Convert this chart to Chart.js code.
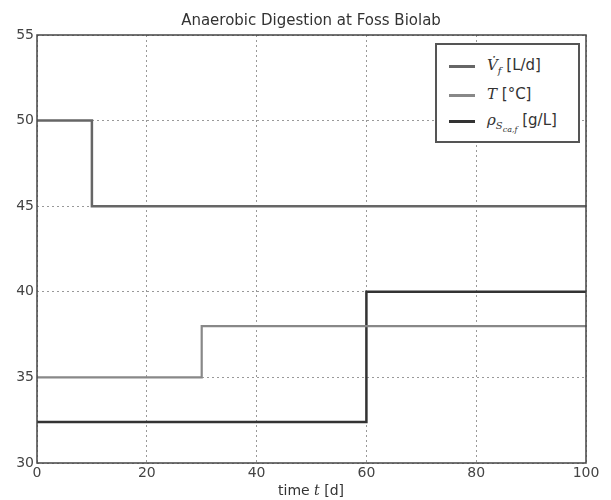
<!DOCTYPE html>
<html>
<head>
<meta charset="utf-8">
<script src="https://cdn.jsdelivr.net/npm/chart.js@4.4.1/dist/chart.umd.min.js"></script>
<style>
    body { margin: 0; background: #fff; }
    #wrap { position: relative; width: 611px; height: 500px; }
    #legend {
        position: absolute; left: 435px; top: 43px; width: 141px; height: 96px;
        border: 2px solid #555; background: #fff;
        font-family: "DejaVu Sans", sans-serif; font-size: 15px; color: #333;
    }
    .row { position: absolute; left: 0; height: 20px; }
    .swatch { position: absolute; left: 12px; width: 26px; }
    .lbl { position: absolute; left: 50px; top: -9px; white-space: nowrap; }
    .m { font-family: "DejaVu Serif", serif; font-style: italic; }
    sub { font-size: 10px; }
    sub sub { font-size: 8px; }
</style>
</head>
<body>
<div id="wrap">
    <canvas id="chart" width="611" height="500"></canvas>
    <div id="legend">
        <div class="row" style="top:20px"><span class="swatch" style="background:#666;height:2.5px"></span><span class="lbl"><span class="m">V&#775;</span><sub class="m">f</sub> [L/d]</span></div>
        <div class="row" style="top:49px"><span class="swatch" style="background:#888;height:2.5px"></span><span class="lbl"><span class="m">T</span> [&deg;C]</span></div>
        <div class="row" style="top:75px"><span class="swatch" style="background:#333;height:3px"></span><span class="lbl"><span class="m">&rho;</span><sub><span class="m">S</span><sub class="m">ca,f</sub></sub> [g/L]</span></div>
    </div>
</div>
<script>
const flowTimes = [0, 10, 100];
const flowValues = [50, 45, 45];
const tempTimes = [0, 30, 100];
const tempValues = [35, 38, 38];
const rhoTimes = [0, 60, 100];
const rhoValues = [32.4, 40, 40];

const xTicks = [0, 20, 40, 60, 80, 100];
const yTicks = [30, 35, 40, 45, 50, 55];

function toPoints(xs, ys){
    return xs.map((x, i) => ({x: x, y: ys[i]}));
}

const framePlugin = {
    id: "frame",
    afterDraw(chart){
        const ctx = chart.ctx;
        const a = chart.chartArea;
        ctx.save();
        ctx.strokeStyle = "#444";
        ctx.lineWidth = 1.5;
        ctx.strokeRect(a.left, a.top, a.right - a.left, a.bottom - a.top);

        // title
        ctx.fillStyle = "#333";
        ctx.textBaseline = "middle";
        ctx.textAlign = "center";
        ctx.font = "15px 'DejaVu Sans'";
        ctx.fillText("Anaerobic Digestion at Foss Biolab", 311, 21);

        // x axis title with italic t
        const parts = [
            {t: "time ", f: "14px 'DejaVu Sans'"},
            {t: "t", f: "italic 14px 'DejaVu Serif'"},
            {t: " [d]", f: "14px 'DejaVu Sans'"}
        ];
        let total = 0;
        parts.forEach(p => { ctx.font = p.f; p.w = ctx.measureText(p.t).width; total += p.w; });
        let x = 311 - total / 2;
        ctx.textAlign = "left";
        parts.forEach(p => { ctx.font = p.f; ctx.fillText(p.t, x, 491); x += p.w; });
        ctx.restore();
    }
};

new Chart(document.getElementById("chart"), {
    type: "line",
    data: {
        datasets: [{
            label: "Vf",
            data: toPoints(flowTimes, flowValues),
            borderColor: "#666",
            borderWidth: 2.5,
            stepped: true,
            pointRadius: 0,
            fill: false
        },{
            label: "T",
            data: toPoints(tempTimes, tempValues),
            borderColor: "#888",
            borderWidth: 2.2,
            stepped: true,
            pointRadius: 0,
            fill: false
        },{
            label: "rho",
            data: toPoints(rhoTimes, rhoValues),
            borderColor: "#333",
            borderWidth: 2.5,
            stepped: true,
            pointRadius: 0,
            fill: false
        }]
    },
    options: {
        responsive: false,
        animation: false,
        layout: { padding: { top: 35, right: 25, left: 0, bottom: 0 } },
        plugins: {
            legend: { display: false },
            title: { display: false },
            tooltip: { enabled: false }
        },
        scales: {
            x: {
                type: "linear",
                min: 0,
                max: 100,
                afterBuildTicks: scale => { scale.ticks = xTicks.map(v => ({value: v})); },
                afterFit: scale => { scale.height = 37; },
                ticks: { color: "#444", font: { family: "DejaVu Sans", size: 14 }, padding: 2, maxRotation: 0 },
                grid: { color: "#999", drawTicks: false, lineWidth: 1 },
                border: { display: false, dash: [2, 3] }
            },
            y: {
                min: 30,
                max: 55,
                afterBuildTicks: scale => { scale.ticks = yTicks.map(v => ({value: v})); },
                afterFit: scale => { scale.width = 37; },
                ticks: { color: "#444", font: { family: "DejaVu Sans", size: 14 }, padding: 3 },
                grid: { color: "#999", drawTicks: false, lineWidth: 1 },
                border: { display: false, dash: [2, 3] }
            }
        }
    },
    plugins: [framePlugin]
});
</script>
</body>
</html>
